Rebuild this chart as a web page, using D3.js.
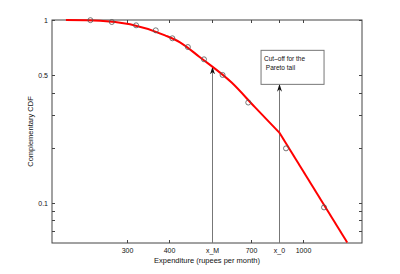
<!DOCTYPE html>
<html>
<head>
    <style>
        body { margin: 0; background: white; }
        text { font-family: "Liberation Sans", Arial, sans-serif; }
    </style>
    <script src="https://d3js.org/d3.v7.min.js"></script>
</head>
<body>
<svg id="chart" width="400" height="274"></svg>
<script>
    // observed points (expenditure, complementary CDF)
    var pointX = [234, 271, 320, 366, 410, 456, 509, 578, 689, 892, 1157];
    var pointY = [0.998, 0.975, 0.935, 0.878, 0.794, 0.711, 0.609, 0.5, 0.353, 0.198, 0.094];

    // fitted curve: log-normal body then Pareto tail
    var bodyX = [198, 250, 307, 390, 432, 495, 615, 721, 852];
    var bodyY = [1.0, 0.992, 0.947, 0.824, 0.755, 0.625, 0.454, 0.333, 0.2417];
    var tailX = [852, 1356];
    var tailY = [0.2417, 0.0604];

    var xTicks = [300, 400, 538, 700, 850, 1000];
    var xTickLabels = ["300", "400", "x_M", "700", "x_0", "1000"];
    var yTicks = [1, 0.5, 0.4, 0.3, 0.2, 0.1, 0.09, 0.08, 0.07];
    var yTickLabels = {1: "1", 0.5: "0.5", 0.1: "0.1"};

    var xM = 538, x0 = 850;
    var arrowTipY = [0.553, 0.444];

    var margin = {top: 20, right: 38, bottom: 31, left: 52},
        width = 400 - margin.left - margin.right,
        height = 274 - margin.top - margin.bottom;

    var svg = d3.select("#chart");
    var g = svg.append("g").attr("transform", "translate(" + margin.left + "," + margin.top + ")");

    var x = d3.scaleLog().domain([180, 1500]).range([0, width]);
    var y = d3.scaleLog().domain([0.06, 1]).range([height, 0]);

    // frame
    g.append("rect").attr("width", width).attr("height", height)
        .attr("fill", "none").attr("stroke", "#444").attr("stroke-width", 1);

    // x ticks, inward on bottom and top
    xTicks.forEach(function (v, i) {
        var px = Math.round(x(v)) + 0.5;
        g.append("line").attr("x1", px).attr("x2", px).attr("y1", height).attr("y2", height - 3)
            .attr("stroke", "#444");
        g.append("line").attr("x1", px).attr("x2", px).attr("y1", 0).attr("y2", 3)
            .attr("stroke", "#444");
        g.append("text").attr("x", px).attr("y", height + 10)
            .attr("text-anchor", "middle").style("font-size", "7px").text(xTickLabels[i]);
    });

    // y ticks
    yTicks.forEach(function (v) {
        var py = Math.round(y(v)) + 0.5;
        g.append("line").attr("x1", 0).attr("x2", 3).attr("y1", py).attr("y2", py).attr("stroke", "#444");
        g.append("line").attr("x1", width).attr("x2", width - 3).attr("y1", py).attr("y2", py).attr("stroke", "#444");
        if (yTickLabels[v]) {
            g.append("text").attr("x", -4).attr("y", py).attr("dy", "0.35em")
                .attr("text-anchor", "end").style("font-size", "7px").text(yTickLabels[v]);
        }
    });

    // axis labels
    g.append("text").attr("x", width / 2).attr("y", height + 20)
        .attr("text-anchor", "middle").style("font-size", "7.5px")
        .text("Expenditure (rupees per month)");
    g.append("text").attr("transform", "rotate(-90)")
        .attr("x", -height / 2).attr("y", -19)
        .attr("text-anchor", "middle").style("font-size", "7.5px")
        .text("Complementary CDF");

    // arrows
    var defs = svg.append("defs");
    defs.append("marker").attr("id", "head")
        .attr("viewBox", "0 0 16 10").attr("refX", 15).attr("refY", 5)
        .attr("markerWidth", 8).attr("markerHeight", 5).attr("markerUnits", "userSpaceOnUse")
        .attr("orient", "auto")
        .append("path").attr("d", "M16,5 L0,0 L5,5 L0,10 Z").attr("fill", "#111");

    [xM, x0].forEach(function (v, i) {
        var px = Math.round(x(v)) + 0.5;
        g.append("line").attr("x1", px).attr("x2", px)
            .attr("y1", height).attr("y2", y(arrowTipY[i]))
            .attr("stroke", "#777").attr("stroke-width", 1)
            .attr("marker-end", "url(#head)");
    });

    // annotation box
    var bx = x(752), by = y(0.682), bw = x(1157) - x(752), bh = y(0.444) - y(0.682);
    g.append("rect").attr("x", bx).attr("y", by).attr("width", bw).attr("height", bh)
        .attr("fill", "white").attr("stroke", "#777");
    g.append("text").attr("x", bx + 3).attr("y", by + 11).style("font-size", "6.5px").text("Cut\u2013off for the");
    g.append("text").attr("x", bx + 3).attr("y", by + 20).style("font-size", "6.5px").text(" Pareto tail");
    g.selectAll("text").attr("xml:space", "preserve").attr("fill", "#111");

    // fitted curve
    var body = d3.line().x(function (d) { return x(d[0]); }).y(function (d) { return y(d[1]); })
        .curve(d3.curveMonotoneX);
    var lin = d3.line().x(function (d) { return x(d[0]); }).y(function (d) { return y(d[1]); });
    g.append("path").datum(d3.zip(bodyX, bodyY)).attr("d", body)
        .attr("fill", "none").attr("stroke", "red").attr("stroke-width", 2);
    g.append("path").datum(d3.zip(tailX, tailY)).attr("d", lin)
        .attr("fill", "none").attr("stroke", "red").attr("stroke-width", 2);

    // observed points
    g.selectAll("circle.pt").data(d3.zip(pointX, pointY)).join("circle")
        .attr("class", "pt")
        .attr("cx", function (d) { return x(d[0]); })
        .attr("cy", function (d) { return y(d[1]); })
        .attr("r", 2.5).attr("fill", "none").attr("stroke", "#555").attr("stroke-width", 0.8);
</script>
</body>
</html>
